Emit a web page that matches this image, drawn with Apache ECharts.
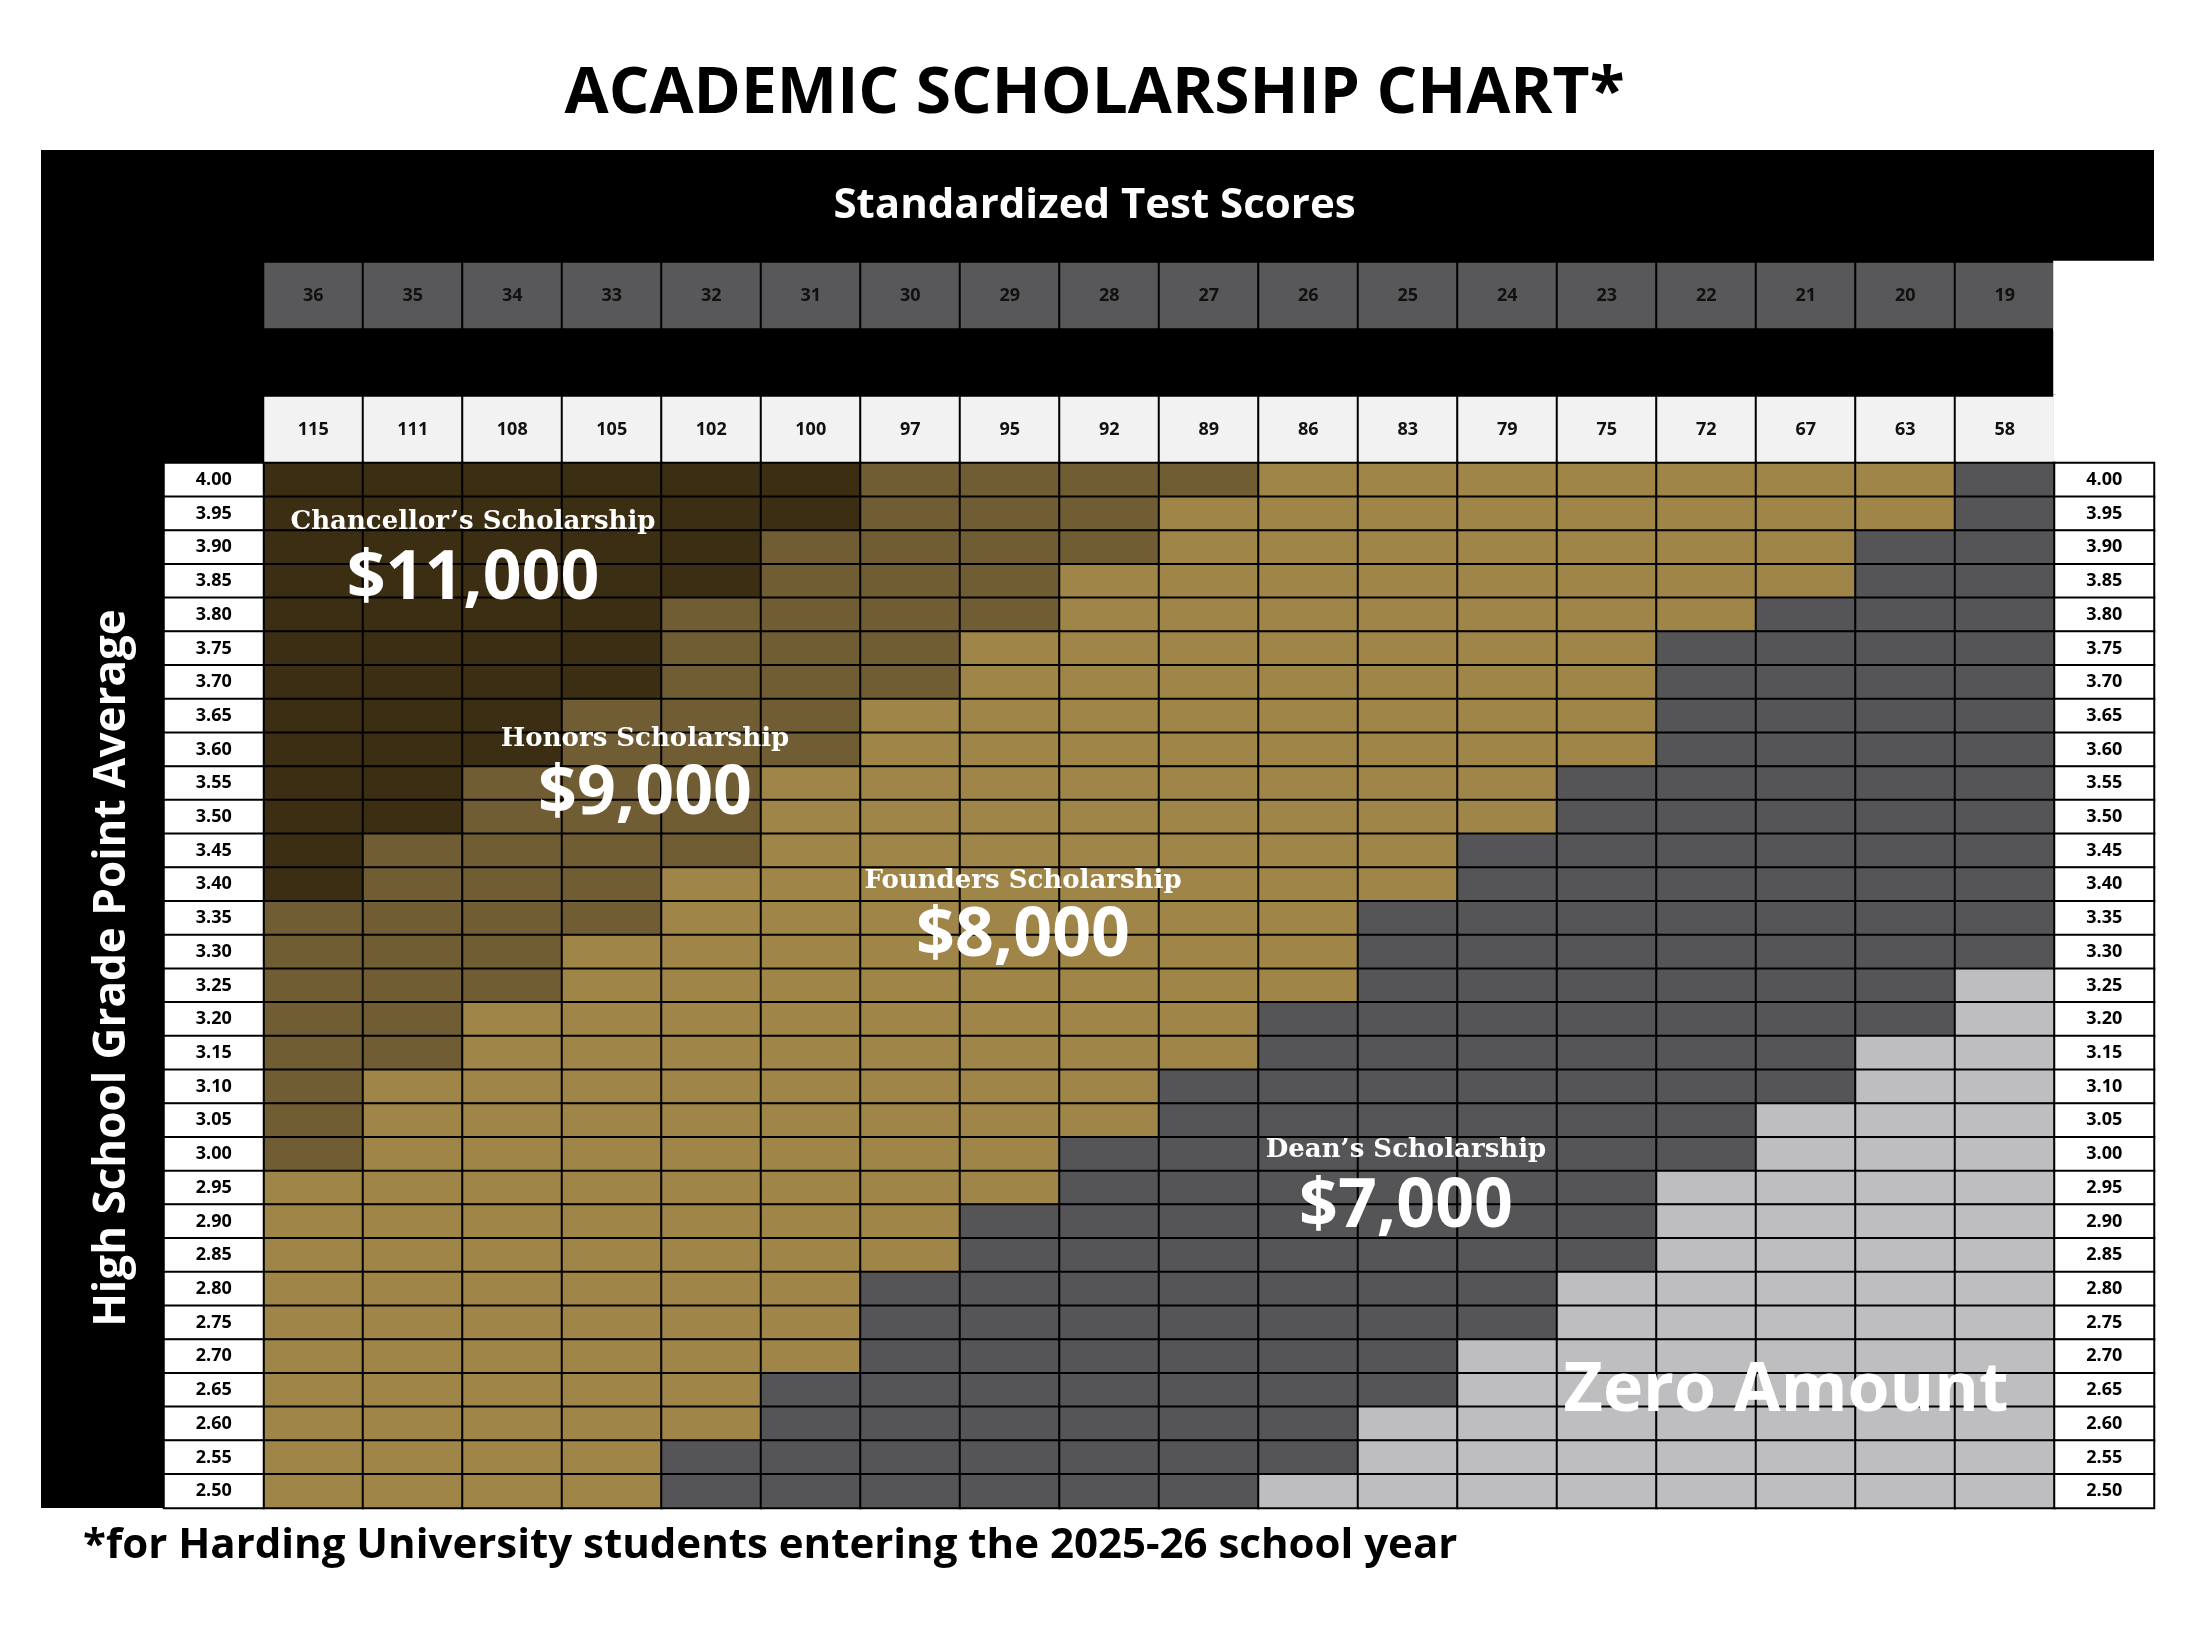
<!DOCTYPE html>
<html><head><meta charset="utf-8">
<script src="https://cdn.jsdelivr.net/npm/echarts@6/dist/echarts.min.js"></script>
<style>html,body{margin:0;padding:0;background:#fff}#c{width:2189px;height:1627px}</style>
</head><body><div id="c"></div>
<script>
const actScores = ['36','35','34','33','32','31','30','29','28','27','26','25','24','23','22','21','20','19'];
const satScores = ['1570-\n1600','1530-\n1560','1490-\n1520','1450-\n1480','1420-\n1440','1390-\n1410','1360-\n1380','1330-\n1350','1300-\n1320','1260-\n1290','1230-\n1250','1200-\n1220','1160-\n1190','1130-\n1150','1100-\n1120','1060-\n1090','1030-\n1050','990-\n1020'];
const cltScores = ['115','111','108','105','102','100','97','95','92','89','86','83','79','75','72','67','63','58'];
const gpaLabels = ['4.00','3.95','3.90','3.85','3.80','3.75','3.70','3.65','3.60','3.55','3.50','3.45','3.40','3.35','3.30','3.25','3.20','3.15','3.10','3.05','3.00','2.95','2.90','2.85','2.80','2.75','2.70','2.65','2.60','2.55','2.50'];
// 4 = Chancellor, 3 = Honors, 2 = Founders, 1 = Dean, 0 = Zero
const levelRows = [
'444444333322222221','444444333222222221','444443333222222211','444443332222222211',
'444433332222222111','444433322222221111','444433322222221111','444333222222221111',
'444333222222221111','443332222222211111','443332222222211111','433332222222111111',
'433322222222111111','333322222221111111','333222222221111111','333222222221111110',
'332222222211111110','332222222211111100','322222222111111100','322222222111111000',
'322222221111111000','222222221111110000','222222211111110000','222222211111110000',
'222222111111100000','222222111111100000','222222111111000000','222221111111000000',
'222221111110000000','222211111110000000','222211111100000000'];
const levelColors = ['#bebec0','#555558','#a08549','#715d33','#3b2e12'];

const cols = ['L'].concat(actScores).concat(['R']);
const cellData = [], labelData = [];
gpaLabels.forEach((g, r) => {
  labelData.push([0, r, g]); labelData.push([19, r, g]);
  for (let c = 0; c < 18; c++) cellData.push([c + 1, r, +levelRows[r][c]]);
});
const headRows = ['ACT','SAT','CLT'];
const headColors = ['#58585a','#bdbdbf','#f2f2f2'];
const headVals = [actScores, satScores, cltScores];
const headData = [];
headRows.forEach((h, r) => {
  headData.push({value:[0, r, h], itemStyle:{color:headColors[r]}});
  headVals[r].forEach((v, c) => headData.push({value:[c + 1, r, v], itemStyle:{color:headColors[r]}}));
  headData.push({value:[19, r, ''], itemStyle:{color:'#fff', borderColor:'#fff'}});
});

const chart = echarts.init(document.getElementById('c'));
const W = 99.5;
const cx = c => 164 + W * (c + 0.5);
const ry = r => 463 + 33.7 * (r + 0.5);
const serif = '"DejaVu Serif", "Liberation Serif", serif';
const sans = '"Open Sans", "Noto Sans", sans-serif';
function ann(text, x, y, size, font) {
  return {type:'text', z:100, x:x, y:y, style:{text:text, x:0, y:0, fill:'#fff', font:'bold ' + size + 'px ' + font, textAlign:'center', textVerticalAlign:'middle'}};
}
chart.setOption({
  backgroundColor:'#fff',
  animation:false,
  title:[
    {text:'ACADEMIC SCHOLARSHIP CHART*', left:'center', top:58, textStyle:{fontFamily:sans, fontSize:64, fontWeight:'bold', color:'#000'}},
    {text:'Standardized Test Scores', left:'center', top:180, textStyle:{fontFamily:sans, fontSize:42, fontWeight:'bold', color:'#fff'}},
    {text:'*for Harding University students entering the 2025-26 school year', left:78, top:1520, textStyle:{fontFamily:sans, fontSize:42, fontWeight:'bold', color:'#000'}}
  ],
  graphic:[
    {type:'rect', z:-10, shape:{x:41, y:150, width:2113, height:1358}, style:{fill:'#000'}},
    {type:'text', z:100, x:112, y:968, rotation:Math.PI/2, style:{text:'High School Grade Point Average', x:0, y:0, fill:'#fff', font:'bold 44px ' + sans, textAlign:'center', textVerticalAlign:'middle'}},
    ann('Chancellor\u2019s Scholarship', 473, 522, 26, serif),
    ann('$11,000', 473, 580, 68, sans),
    ann('Honors Scholarship', 645, 739, 26, serif),
    ann('$9,000', 645, 795, 68, sans),
    ann('Founders Scholarship', 1023, 881, 26, serif),
    ann('$8,000', 1023, 937, 68, sans),
    ann('Dean\u2019s Scholarship', 1406, 1150, 26, serif),
    ann('$7,000', 1406, 1208, 68, sans),
    ann('Zero Amount', 1786, 1392, 68, sans)
  ],
  grid:[
    {left:164, right:35, top:262, height:201},
    {left:164, right:35, top:463, bottom:119}
  ],
  xAxis:[
    {type:'category', gridIndex:0, data:cols, show:false},
    {type:'category', gridIndex:1, data:cols, show:false}
  ],
  yAxis:[
    {type:'category', gridIndex:0, data:headRows, inverse:true, show:false},
    {type:'category', gridIndex:1, data:gpaLabels, inverse:true, show:false}
  ],
  visualMap:{show:false, type:'piecewise', seriesIndex:1, dimension:2,
    pieces:levelColors.map((col, i) => ({value:i, color:col}))},
  series:[
    {type:'heatmap', xAxisIndex:0, yAxisIndex:0, data:headData,
     itemStyle:{borderColor:'#000', borderWidth:2},
     label:{show:true, formatter:p => p.value[2], color:'#111', fontFamily:sans, fontWeight:'bold', fontSize:18, lineHeight:22}},
    {type:'heatmap', xAxisIndex:1, yAxisIndex:1, data:cellData,
     itemStyle:{borderColor:'#000', borderWidth:2}},
    {type:'heatmap', xAxisIndex:1, yAxisIndex:1, data:labelData,
     itemStyle:{color:'#fff', borderColor:'#000', borderWidth:2},
     label:{show:true, formatter:p => p.value[2], color:'#000', fontFamily:sans, fontWeight:'bold', fontSize:18}}
  ]
});
</script></body></html>
